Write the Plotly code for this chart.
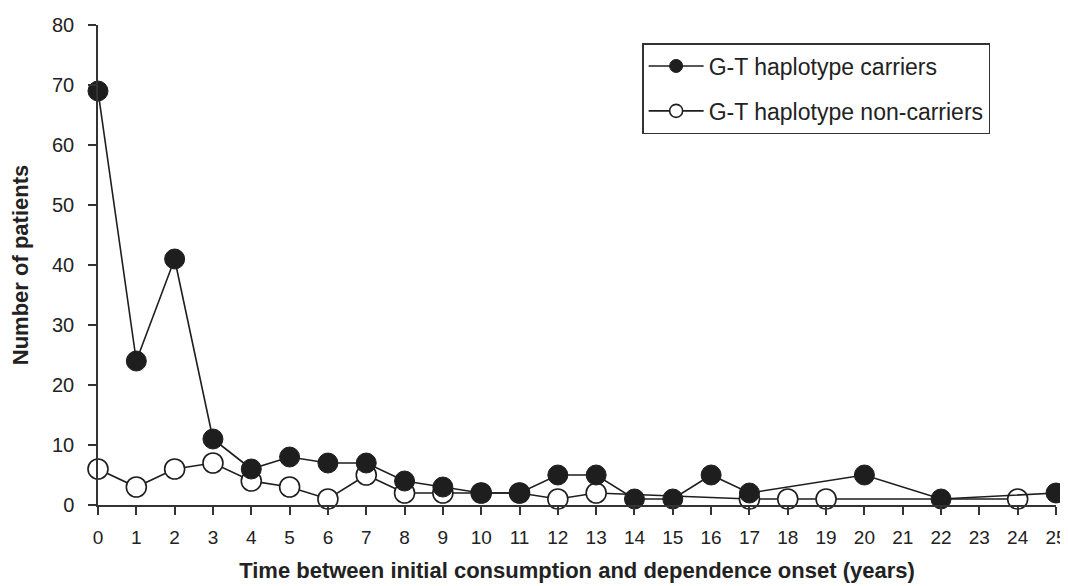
import plotly.graph_objects as go

carrier_years = [0, 1, 2, 3, 4, 5, 6, 7, 8, 9, 10, 11, 12, 13, 14, 15, 16, 17, 20, 22, 25]
carrier_counts = [69, 24, 41, 11, 6, 8, 7, 7, 4, 3, 2, 2, 5, 5, 1, 1, 5, 2, 5, 1, 2]

noncarrier_years = [0, 1, 2, 3, 4, 5, 6, 7, 8, 9, 10, 11, 12, 13, 17, 18, 19, 24]
noncarrier_counts = [6, 3, 6, 7, 4, 3, 1, 5, 2, 2, 2, 2, 1, 2, 1, 1, 1, 1]

x_ticks = list(range(0, 26))
y_ticks = [0, 10, 20, 30, 40, 50, 60, 70, 80]

ink = "#1e1e1e"
fig = go.Figure()
fig.add_trace(go.Scatter(
    x=noncarrier_years, y=noncarrier_counts, mode="lines+markers",
    name="G-T haplotype non-carriers", showlegend=False,
    line=dict(color=ink, width=1.6),
    marker=dict(size=20, color="white", line=dict(color=ink, width=1.6)),
    cliponaxis=False,
))
fig.add_trace(go.Scatter(
    x=carrier_years, y=carrier_counts, mode="lines+markers",
    name="G-T haplotype carriers", showlegend=False,
    line=dict(color=ink, width=1.6),
    marker=dict(size=20, color=ink, line=dict(color=ink, width=1)),
    cliponaxis=False,
))
# legend entries (smaller symbols, as in the reference)
fig.add_trace(go.Scatter(
    x=[None], y=[None], mode="lines+markers", name="G-T haplotype carriers",
    legendgroup="a",
    line=dict(color=ink, width=1.6),
    marker=dict(size=13, color=ink, line=dict(color=ink, width=1)),
))
fig.add_trace(go.Scatter(
    x=[None], y=[None], mode="lines+markers", name="G-T haplotype non-carriers",
    legendgroup="b",
    line=dict(color=ink, width=1.6),
    marker=dict(size=13, color="white", line=dict(color=ink, width=1.6)),
))

font = "Liberation Sans, Arial, sans-serif"
fig.update_layout(
    width=1060, height=578,
    margin=dict(l=90, r=12, t=17, b=81),
    plot_bgcolor="white", paper_bgcolor="white",
    font=dict(family=font, color="#222", size=19),
    showlegend=True,
    legend=dict(
        x=0.568, y=0.9625, xanchor="left", yanchor="top",
        bordercolor="#333", borderwidth=1.5, bgcolor="white",
        font=dict(size=23, family=font, color="#222"),
        itemwidth=55,
        tracegroupgap=12,
    ),
    xaxis=dict(
        range=[0, 25], tickvals=x_ticks, ticktext=[str(v) for v in x_ticks],
        showgrid=False, zeroline=False, showline=True, linecolor="#333", linewidth=1.5,
        ticks="outside", ticklen=8, tickwidth=1.5, tickcolor="#333",
        tickfont=dict(size=19), ticklabelstandoff=6, automargin=False,
        title=dict(text="<b>Time between initial consumption and dependence onset (years)</b>",
                   font=dict(size=22), standoff=16),
    ),
    yaxis=dict(
        range=[0, 80], tickvals=y_ticks,
        showgrid=False, zeroline=False, showline=True, linecolor="#333", linewidth=1.5,
        ticks="outside", ticklen=8, tickwidth=1.5, tickcolor="#333",
        tickfont=dict(size=20), ticklabelstandoff=10, automargin=False,
        title=dict(text="<b>Number of patients</b>", font=dict(size=22), standoff=22),
    ),
)
fig.write_html("out.html")
